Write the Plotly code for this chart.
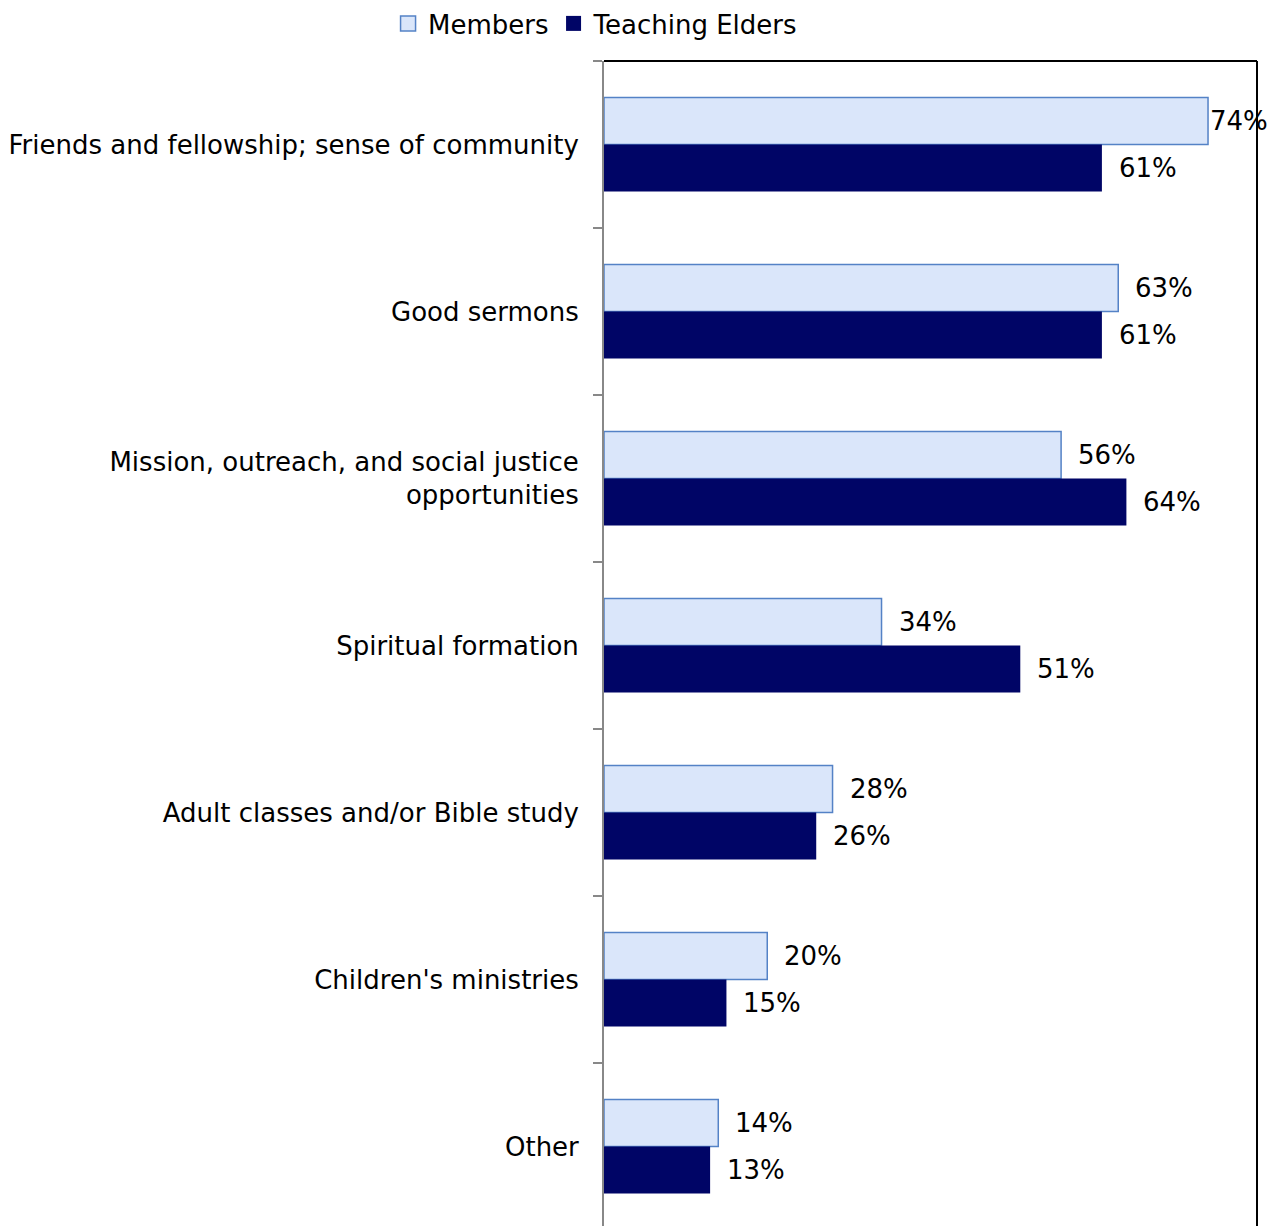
import plotly.graph_objects as go

categories = [
    "Friends and fellowship; sense of community",
    "Good sermons",
    "Mission, outreach, and social justice<br>opportunities",
    "Spiritual formation",
    "Adult classes and/or Bible study",
    "Children's ministries",
    "Other",
]
members = [74, 63, 56, 34, 28, 20, 14]
teaching_elders = [61, 61, 64, 51, 26, 15, 13]
series_names = ["Members", "Teaching Elders"]

FONT = "DejaVu Sans"
FS = 26

M_FILL, M_LINE = "#DAE6FA", "#5482C6"
E_FILL = "#000566"

fig = go.Figure()
fig.add_trace(go.Bar(
    name=series_names[0], y=categories, x=[v / 100 for v in members], orientation="h",
    marker=dict(color=M_FILL, line=dict(color=M_LINE, width=1.5)), showlegend=False,
))
fig.add_trace(go.Bar(
    name=series_names[1], y=categories, x=[v / 100 for v in teaching_elders], orientation="h",
    marker=dict(color=E_FILL, line=dict(color=E_FILL, width=0)), showlegend=False,
))
# legend entries with larger square swatches
fig.add_trace(go.Scatter(
    name=series_names[0], x=[None], y=[None], mode="markers",
    marker=dict(symbol="square", size=15, color=M_FILL, line=dict(color=M_LINE, width=1.5)),
))
fig.add_trace(go.Scatter(
    name=series_names[1], x=[None], y=[None], mode="markers",
    marker=dict(symbol="square", size=15, color=E_FILL, line=dict(color=E_FILL, width=0)),
))

annotations = []
for vals, yshift in ((members, 23.5), (teaching_elders, -23.5)):
    for cat, v in zip(categories, vals):
        edge_limited = v / 100 > 0.72
        annotations.append(dict(
            x=v / 100, y=cat, xref="x", yref="y", text=f"{v}%", showarrow=False,
            xanchor="left", yanchor="middle", xshift=0 if edge_limited else 15, yshift=yshift,
            font=dict(family=FONT, size=FS, color="#000000"),
        ))

fig.update_layout(
    width=1274, height=1226,
    margin=dict(l=604, r=17, t=61, b=0),
    paper_bgcolor="white", plot_bgcolor="white",
    barmode="group", bargap=0.437, bargroupgap=0,
    font=dict(family=FONT, size=FS, color="#000000"),
    showlegend=True,
    legend=dict(orientation="h", xref="container", x=0.3046, xanchor="left",
                yref="container", y=1.0, yanchor="top",
                font=dict(family=FONT, size=FS), traceorder="normal", itemwidth=30,
                bgcolor="rgba(0,0,0,0)"),
    annotations=annotations,
    xaxis=dict(range=[0, 0.8], showgrid=False, zeroline=False, showticklabels=False,
               ticks="", showline=False, fixedrange=True),
    yaxis=dict(type="category", range=[6.476, -0.5], showgrid=False, zeroline=False,
               ticks="outside", ticklen=9, tickwidth=2, tickcolor="#888888",
               tickson="boundaries", showline=True, linecolor="#888888", linewidth=2,
               ticklabelstandoff=18, tickfont=dict(family=FONT, size=FS, color="#000000")),
    shapes=[
        dict(type="line", xref="paper", yref="paper", x0=0, x1=1, y0=1, y1=1,
             line=dict(color="#000000", width=2)),
        dict(type="line", xref="paper", yref="paper", x0=1, x1=1, y0=0, y1=1,
             line=dict(color="#000000", width=2)),
    ],
)

fig.write_html("out.html")
